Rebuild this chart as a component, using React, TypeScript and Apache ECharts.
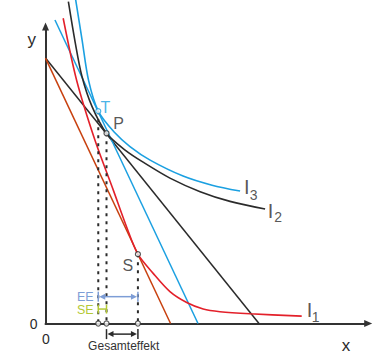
import React, { useEffect, useRef } from "react";
import * as echarts from "echarts";

// ---- data (data units) ----
const budgetOld = [[0, 9], [7, 0]];          // black budget line
const budgetNew = [[0, 9], [4.1, 0]];        // orange (new price) budget line
const budgetComp = [[0.31, 10.29], [5, 0]];  // blue compensated budget line

const curveI1 = [
  [0.58, 10.35], [1.02, 8.25], [1.62, 6.22], [2.22, 4.53], [2.65, 3.3], [3.03, 2.35],
  [3.53, 1.7], [4.08, 1.08], [4.63, 0.71], [5.17, 0.49], [5.72, 0.4], [6.7, 0.33], [8.4, 0.25],
];
const curveI2 = [
  [0.75, 10.91], [0.97, 9.55], [1.19, 8.4], [1.52, 7.37], [2.0, 6.45], [2.61, 5.88],
  [3.2, 5.47], [4.08, 4.93], [5.07, 4.47], [6.05, 4.14], [7.2, 3.88],
];
const curveI3 = [
  [0.99, 10.97], [1.2, 9.61], [1.41, 8.25], [1.73, 7.2], [2.25, 6.49], [2.77, 6.0],
  [3.43, 5.54], [4.51, 5.0], [5.46, 4.69], [6.38, 4.49],
];

const pointT = [1.73, 7.2];
const pointP = [2.0, 6.45];
const pointS = [3.03, 2.35];

const pointNames = ["T", "P", "S"];
const curveIndexNames = ["1", "2", "3"];
const effectNames = ["EE", "SE", "Gesamteffekt"];

// ---- layout / style ----
const FONT = "'Liberation Sans', Arial, Helvetica, sans-serif";
const BLACK = "#2b2b2b";
const BLUE = "#1ba0e1";
const RED = "#e3202a";
const ORANGE = "#c8410f";
const EE_COLOR = "#7d9dd6";
const SE_COLOR = "#b4c936";

const X_MAX = 10.58;
const Y_MAX = 10.07;
const EE_LEVEL = 0.91;
const SE_LEVEL = 0.49;
const GE_LEVEL = -0.36;

export default function App() {
  const ref = useRef<HTMLDivElement>(null);

  useEffect(() => {
    document.body.style.margin = "0";
    if (!ref.current) return;
    const chart = echarts.init(ref.current, undefined, { renderer: "svg" });

    const lineSeries = (data: number[][], color: string, width: number, smooth: boolean | number) => ({
      type: "line",
      data,
      symbol: "none",
      smooth,
      clip: false,
      silent: true,
      lineStyle: { color, width },
      z: 2,
    });

    const points = [pointT, pointP, pointS];
    const pointColors = [BLUE, BLACK, BLACK];
    const pointLabelOffsets = [[7, -4], [12, -9.5], [-10, 11]];

    const curves = [curveI1, curveI2, curveI3];
    const curveEnds = curves.map((c) => c[c.length - 1]);
    const iOffsets = [[7.8, -5.7], [5.5, 1.8], [6.7, -4]];
    const subOffsets = [[14, 0.7], [13, 7.7], [13.6, 4]];

    const effects = [
      { from: pointT[0], to: pointS[0], level: EE_LEVEL, color: EE_COLOR, arrows: true, half: 5 },
      { from: pointT[0], to: pointP[0], level: SE_LEVEL, color: SE_COLOR, arrows: false, half: 4.5 },
      { from: pointP[0], to: pointS[0], level: GE_LEVEL, color: BLACK, arrows: true, half: 5 },
    ];

    const dotted = points.map((p) => ({
      type: "line",
      data: [p, [p[0], 0]],
      symbol: "none",
      clip: false,
      silent: true,
      lineStyle: { color: BLACK, width: 2, type: [3, 5] },
      z: 3,
    }));

    const textStyle = (text: string, size: number, fill: string) => ({
      text,
      font: `${size}px ${FONT}`,
      fill,
      align: "center",
      verticalAlign: "middle",
      textAlign: "center",
      textVerticalAlign: "middle",
    });

    const option: any = {
      animation: false,
      grid: { left: 45.5, right: 11.8, top: 26.5, bottom: 29.5, containLabel: false },
      xAxis: {
        type: "value",
        min: 0,
        max: X_MAX,
        axisLine: {
          show: true,
          onZero: true,
          symbol: ["none", "triangle"],
          symbolSize: [7, 8],
          lineStyle: { color: "#333", width: 2 },
        },
        axisTick: { show: false },
        axisLabel: { show: false },
        splitLine: { show: false },
      },
      yAxis: {
        type: "value",
        min: 0,
        max: Y_MAX,
        axisLine: {
          show: true,
          onZero: true,
          symbol: ["none", "triangle"],
          symbolSize: [7, 8],
          lineStyle: { color: "#333", width: 2 },
        },
        axisTick: { show: false },
        axisLabel: { show: false },
        splitLine: { show: false },
      },
      series: [
        lineSeries(budgetOld, BLACK, 1.5, false),
        lineSeries(budgetNew, ORANGE, 1.5, false),
        lineSeries(budgetComp, BLUE, 1.5, false),
        lineSeries(curveI1, RED, 1.6, 0.3),
        lineSeries(curveI2, BLACK, 1.6, 0.3),
        lineSeries(curveI3, BLUE, 1.6, 0.3),
        ...dotted,
        {
          type: "custom",
          coordinateSystem: "cartesian2d",
          clip: false,
          silent: true,
          z: 4,
          encode: { x: [0, 1], y: 2 },
          data: effects.map((e, i) => [e.from, e.to, e.level, i]),
          renderItem: (params: any, api: any) => {
            const e = effects[api.value(3)];
            const a = api.coord([api.value(0), api.value(2)]);
            const b = api.coord([api.value(1), api.value(2)]);
            const ah = e.arrows ? 6 : 0;
            const aw = 3;
            const st = { stroke: e.color, lineWidth: 1.5 };
            const children: any[] = [
              { type: "line", shape: { x1: a[0], y1: a[1] - e.half, x2: a[0], y2: a[1] + e.half }, style: st },
              { type: "line", shape: { x1: b[0], y1: b[1] - e.half, x2: b[0], y2: b[1] + e.half }, style: st },
              { type: "line", shape: { x1: a[0] + ah, y1: a[1], x2: b[0] - ah, y2: b[1] }, style: st },
            ];
            if (e.arrows) {
              children.push({
                type: "polygon",
                shape: { points: [[a[0] + 1, a[1]], [a[0] + ah + 1, a[1] - aw], [a[0] + ah + 1, a[1] + aw]] },
                style: { fill: e.color },
              });
              children.push({
                type: "polygon",
                shape: { points: [[b[0] - 1, b[1]], [b[0] - ah - 1, b[1] - aw], [b[0] - ah - 1, b[1] + aw]] },
                style: { fill: e.color },
              });
            }
            return { type: "group", children };
          },
        },
        {
          type: "scatter",
          data: points.map((p) => [p[0], 0]),
          symbol: "circle",
          symbolSize: 5,
          clip: false,
          silent: true,
          itemStyle: { color: "#fff", borderColor: "#333", borderWidth: 1.2 },
          z: 6,
        },
        {
          type: "scatter",
          clip: false,
          silent: true,
          z: 6,
          symbol: "circle",
          symbolSize: 5,
          data: points.map((p, i) => ({
            value: p,
            name: pointNames[i],
            itemStyle: { color: "#fff", borderColor: pointColors[i], borderWidth: 1.2 },
            label: {
              show: true,
              position: "inside",
              offset: pointLabelOffsets[i],
              formatter: pointNames[i],
              color: i === 0 ? BLUE : BLACK,
              fontSize: 16,
              fontFamily: FONT,
            },
          })),
        },
        {
          type: "scatter",
          clip: false,
          silent: true,
          z: 6,
          symbol: "circle",
          symbolSize: 0.1,
          itemStyle: { color: "transparent" },
          data: curveEnds.map((p, i) => ({
            value: p,
            label: {
              show: true,
              position: "inside",
              offset: iOffsets[i],
              formatter: "I",
              color: BLACK,
              fontSize: 20,
              fontFamily: FONT,
            },
          })),
        },
        {
          type: "scatter",
          clip: false,
          silent: true,
          z: 6,
          symbol: "circle",
          symbolSize: 0.1,
          itemStyle: { color: "transparent" },
          data: curveEnds.map((p, i) => ({
            value: p,
            label: {
              show: true,
              position: "inside",
              offset: subOffsets[i],
              formatter: curveIndexNames[i],
              color: BLACK,
              fontSize: 14,
              fontFamily: FONT,
            },
          })),
        },
      ],
      graphic: [
        { type: "text", x: 31.7, y: 39, style: textStyle("y", 17, BLACK) },
        { type: "text", x: 346, y: 345, style: textStyle("x", 17, BLACK) },
        { type: "text", x: 33.7, y: 323.5, style: textStyle("0", 14, BLACK) },
        { type: "text", x: 46, y: 339, style: textStyle("0", 14, BLACK) },
        { type: "text", x: 85.3, y: 296.7, style: textStyle(effectNames[0], 12.5, EE_COLOR) },
        { type: "text", x: 85.3, y: 309.5, style: textStyle(effectNames[1], 12.5, SE_COLOR) },
        { type: "text", x: 123.7, y: 345.5, style: textStyle(effectNames[2], 12, "#333") },
      ],
    };

    chart.setOption(option);
    return () => chart.dispose();
  }, []);

  return <div ref={ref} style={{ width: 380, height: 353 }} />;
}
